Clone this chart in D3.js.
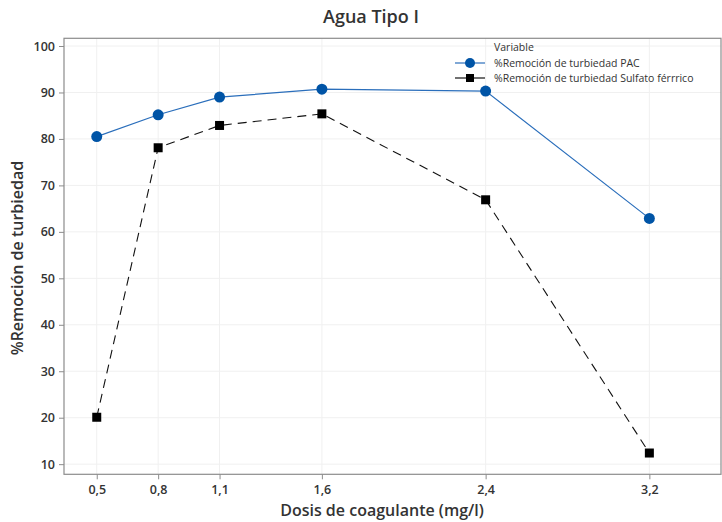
<!DOCTYPE html>
<html><head><meta charset="utf-8">
<script src="https://cdn.jsdelivr.net/npm/d3@7"></script>
<style>body{margin:0;background:#fff;} svg{display:block;font-family:"Open Sans","Noto Sans",sans-serif;}</style>
</head><body>
<svg id="c" width="722" height="522"></svg>
<script>
const doses = [0.5, 0.8, 1.1, 1.6, 2.4, 3.2];
const tickLabels = ["0,5", "0,8", "1,1", "1,6", "2,4", "3,2"];
const pac = [80.5, 85.2, 89.0, 90.7, 90.3, 62.9];
const sulfato = [20.1, 78.1, 82.9, 85.4, 66.9, 12.4];
const yTicks = [10, 20, 30, 40, 50, 60, 70, 80, 90, 100];
const seriesNames = ["%Remoción de turbiedad PAC", "%Remoción de turbiedad Sulfato férrrico"];

const svg = d3.select("#c");
const L = 64, R = 721, T = 38.3, B = 474.3;
const x = d3.scaleLinear().domain([0.34, 3.55]).range([L, R]);
const y = d3.scaleLinear().domain([7.82, 101.66]).range([B, T]);

// gridlines
svg.append("g").selectAll("line").data(yTicks).join("line")
  .attr("x1", L).attr("x2", R).attr("y1", d => y(d)).attr("y2", d => y(d))
  .attr("stroke", "#f0f0f0").attr("stroke-width", 1);
svg.append("g").selectAll("line").data(doses).join("line")
  .attr("y1", T).attr("y2", B).attr("x1", d => x(d)).attr("x2", d => x(d))
  .attr("stroke", "#f0f0f0").attr("stroke-width", 1);

// frame
svg.append("rect").attr("x", L).attr("y", T).attr("width", R - L).attr("height", B - T)
  .attr("fill", "none").attr("stroke", "#8c8c8c").attr("stroke-width", 1.2);

// axes
const xa = svg.append("g").attr("transform", `translate(0,${B})`)
  .call(d3.axisBottom(x).tickValues(doses).tickFormat((d, i) => tickLabels[i]).tickSize(5).tickPadding(6));
const ya = svg.append("g").attr("transform", `translate(${L},0)`)
  .call(d3.axisLeft(y).tickValues(yTicks).tickSize(5).tickPadding(4));
[xa, ya].forEach(a => {
  a.select(".domain").remove();
  a.selectAll(".tick line").attr("stroke", "#8c8c8c");
  a.selectAll("text").attr("fill", "#333").style("font-size", "12.5px").style("font-weight", "600")
    .style("font-family", "'Open Sans', sans-serif");
});

// lines
const pts = (vals) => doses.map((d, i) => [d, vals[i]]);
const line = d3.line().x(d => x(d[0])).y(d => y(d[1]));
svg.append("path").datum(pts(pac)).attr("d", line).attr("fill", "none")
  .attr("stroke", "#2a6ebb").attr("stroke-width", 1.2);
svg.append("path").datum(pts(sulfato)).attr("d", line).attr("fill", "none")
  .attr("stroke", "#111").attr("stroke-width", 1.1).attr("stroke-dasharray", "9,6");

svg.append("g").selectAll("circle").data(pts(pac)).join("circle")
  .attr("cx", d => x(d[0])).attr("cy", d => y(d[1])).attr("r", 5.5).attr("fill", "#0054a6");
svg.append("g").selectAll("rect").data(pts(sulfato)).join("rect")
  .attr("x", d => x(d[0]) - 4.5).attr("y", d => y(d[1]) - 4.5).attr("width", 9).attr("height", 9).attr("fill", "#000");

// title
svg.append("text").attr("x", 371).attr("y", 23).attr("text-anchor", "middle")
  .style("font-size", "18px").style("font-weight", "600").attr("fill", "#333").text("Agua Tipo I");

// axis titles
svg.append("text").attr("x", 382).attr("y", 516).attr("text-anchor", "middle")
  .style("font-size", "16px").style("font-weight", "600").attr("fill", "#333").text("Dosis de coagulante (mg/l)");
svg.append("text").attr("transform", "translate(23,258) rotate(-90)").attr("text-anchor", "middle")
  .style("font-size", "16px").style("font-weight", "600").attr("fill", "#333").text("%Remoción de turbiedad");

// legend
const lg = svg.append("g");
lg.append("text").attr("x", 494).attr("y", 51).style("font-size", "10.5px").attr("fill", "#333").text("Variable");
[0, 1].forEach(i => {
  const yy = 63 + i * 15;
  lg.append("line").attr("x1", 455).attr("x2", 485).attr("y1", yy).attr("y2", yy)
    .attr("stroke", i === 0 ? "#2a6ebb" : "#111").attr("stroke-width", 1.2);
  if (i === 0) lg.append("circle").attr("cx", 470).attr("cy", yy).attr("r", 5).attr("fill", "#0054a6");
  else lg.append("rect").attr("x", 466).attr("y", yy - 4).attr("width", 8).attr("height", 8).attr("fill", "#000");
  lg.append("text").attr("x", 494).attr("y", yy + 3.5).style("font-size", "10.5px").attr("fill", "#333").text(seriesNames[i]);
});
</script>
</body></html>
